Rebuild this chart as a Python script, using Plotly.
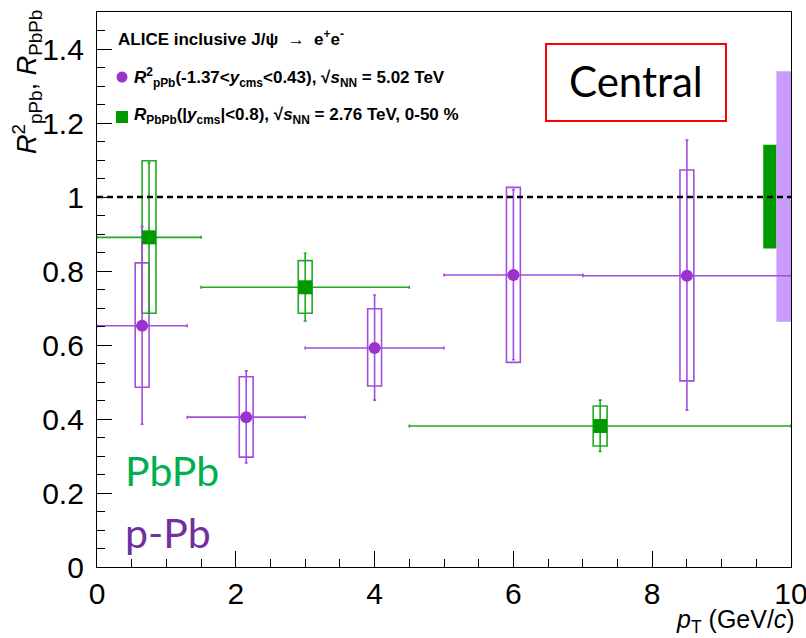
import plotly.graph_objects as go

# ---------------- data ----------------
# p-Pb  (R^2_pPb, -1.37<y_cms<0.43, sqrt(s_NN)=5.02 TeV)
ppb_x = [0.65, 2.15, 4.0, 6.0, 8.5]
ppb_xlo = [0.0, 1.3, 3.0, 5.0, 7.0]
ppb_xhi = [1.3, 3.0, 5.0, 7.0, 10.0]
ppb_y = [0.652, 0.405, 0.592, 0.789, 0.787]
ppb_stat_lo = [0.386, 0.281, 0.451, 0.560, 0.424]
ppb_stat_hi = [0.920, 0.530, 0.735, 1.020, 1.154]
ppb_sys_lo = [0.486, 0.297, 0.489, 0.553, 0.503]
ppb_sys_hi = [0.822, 0.514, 0.698, 1.026, 1.073]

# Pb-Pb (R_PbPb, |y_cms|<0.8, sqrt(s_NN)=2.76 TeV, 0-50 %)
pbpb_x = [0.75, 3.0, 7.25]
pbpb_xlo = [0.0, 1.5, 4.5]
pbpb_xhi = [1.5, 4.5, 10.0]
pbpb_y = [0.891, 0.756, 0.381]
pbpb_stat_lo = [0.689, 0.665, 0.312]
pbpb_stat_hi = [1.093, 0.848, 0.451]
pbpb_sys_lo = [0.686, 0.686, 0.327]
pbpb_sys_hi = [1.098, 0.828, 0.435]

# global (correlated) uncertainties drawn at the right edge
glob_names = ["PbPb", "pPb"]
glob_x0 = [9.60, 9.79]
glob_x1 = [9.79, 10.0]
glob_lo = [0.861, 0.663]
glob_hi = [1.141, 1.340]

unity = 1.0
sys_box_width = 0.2
x_ticks = [0, 2, 4, 6, 8, 10]
y_ticks = [0, 0.2, 0.4, 0.6, 0.8, 1, 1.2, 1.4]

# ---------------- styles ----------------
PURPLE_M = "#9933cc"
PURPLE_L = "#a24ee0"
PURPLE_F = "#c99bfa"
GREEN_M = "#009900"
GREEN_L = "#22a822"

W, H = 806, 638
L, R, T, B = 97, 15, 12, 71
PW, PH = W - L - R, H - T - B


def px(xp):
    return (xp - L) / PW


def py(yp):
    return (H - B - yp) / PH


fig = go.Figure()

# systematic boxes
fig.add_trace(go.Bar(
    x=ppb_x, base=ppb_sys_lo,
    y=[h - l for h, l in zip(ppb_sys_hi, ppb_sys_lo)],
    width=sys_box_width,
    marker=dict(color="rgba(0,0,0,0)", line=dict(color=PURPLE_L, width=1.6)),
    showlegend=False, hoverinfo="skip"))
fig.add_trace(go.Bar(
    x=pbpb_x, base=pbpb_sys_lo,
    y=[h - l for h, l in zip(pbpb_sys_hi, pbpb_sys_lo)],
    width=sys_box_width,
    marker=dict(color="rgba(0,0,0,0)", line=dict(color=GREEN_L, width=1.6)),
    showlegend=False, hoverinfo="skip"))

# global uncertainty boxes
fig.add_trace(go.Bar(
    x=[(a + b) / 2 for a, b in zip(glob_x0, glob_x1)],
    base=glob_lo,
    y=[h - l for h, l in zip(glob_hi, glob_lo)],
    width=[b - a for a, b in zip(glob_x0, glob_x1)],
    marker=dict(color=[GREEN_M, PURPLE_F], line=dict(width=0)),
    showlegend=False, hoverinfo="skip"))

# points with stat errors and bin widths
fig.add_trace(go.Scatter(
    x=ppb_x, y=ppb_y, mode="markers",
    marker=dict(symbol="circle", size=12, color=PURPLE_M, line=dict(width=0)),
    error_x=dict(type="data", symmetric=False,
                 array=[h - x for h, x in zip(ppb_xhi, ppb_x)],
                 arrayminus=[x - l for l, x in zip(ppb_xlo, ppb_x)],
                 color=PURPLE_L, thickness=1.6, width=1.5),
    error_y=dict(type="data", symmetric=False,
                 array=[h - y for h, y in zip(ppb_stat_hi, ppb_y)],
                 arrayminus=[y - l for l, y in zip(ppb_stat_lo, ppb_y)],
                 color=PURPLE_L, thickness=1.6, width=1.5),
    showlegend=False, cliponaxis=True))
fig.add_trace(go.Scatter(
    x=pbpb_x, y=pbpb_y, mode="markers",
    marker=dict(symbol="square", size=14, color=GREEN_M, line=dict(width=0)),
    error_x=dict(type="data", symmetric=False,
                 array=[h - x for h, x in zip(pbpb_xhi, pbpb_x)],
                 arrayminus=[x - l for l, x in zip(pbpb_xlo, pbpb_x)],
                 color=GREEN_L, thickness=1.6, width=1.5),
    error_y=dict(type="data", symmetric=False,
                 array=[h - y for h, y in zip(pbpb_stat_hi, pbpb_y)],
                 arrayminus=[y - l for l, y in zip(pbpb_stat_lo, pbpb_y)],
                 color=GREEN_L, thickness=1.6, width=1.5),
    showlegend=False, cliponaxis=True))

axis_font = dict(family="Liberation Sans, Arial, sans-serif", size=30, color="black")
fig.update_xaxes(range=[0, 10], tickvals=x_ticks, ticks="inside", ticklen=16,
                 tickwidth=1.3, tickcolor="black",
                 minor=dict(dtick=0.5, ticks="inside", ticklen=8, tickwidth=1.3, tickcolor="black"),
                 showline=True, linecolor="black", linewidth=1.3, mirror=True,
                 showgrid=False, zeroline=False, tickfont=axis_font, automargin=False,
                 ticklabelstandoff=0, ticklabeloverflow="allow", fixedrange=True)
fig.update_yaxes(range=[0, 1.5], tickvals=y_ticks, ticks="inside", ticklen=15,
                 tickwidth=1.3, tickcolor="black",
                 minor=dict(dtick=0.05, ticks="inside", ticklen=8, tickwidth=1.3, tickcolor="black"),
                 showline=True, linecolor="black", linewidth=1.3, mirror=True,
                 showgrid=False, zeroline=False, tickfont=axis_font, automargin=False,
                 ticklabelstandoff=6, ticklabeloverflow="allow", fixedrange=True)

leg_font = dict(family="Liberation Sans, Arial, sans-serif", size=17, color="black")
ann = []
ann.append(dict(x=px(116), y=py(38), xref="paper", yref="paper", xanchor="left", yanchor="middle",
                text="<b>ALICE inclusive J/ψ  →  e<sup>+</sup>e<sup>-</sup></b>", showarrow=False, font=leg_font))
ann.append(dict(x=px(132), y=py(77), xref="paper", yref="paper", xanchor="left", yanchor="middle",
                text="<b><i>R</i><sup>2</sup><sub>pPb</sub>(-1.37&lt;<i>y</i><sub>cms</sub>&lt;0.43), √<i>s</i><sub>NN</sub> = 5.02 TeV</b>",
                showarrow=False, font=leg_font))
ann.append(dict(x=px(132), y=py(116), xref="paper", yref="paper", xanchor="left", yanchor="middle",
                text="<b><i>R</i><sub>PbPb</sub>(|<i>y</i><sub>cms</sub>|&lt;0.8), √<i>s</i><sub>NN</sub> = 2.76 TeV, 0-50 %</b>",
                showarrow=False, font=leg_font))
# axis titles
ann.append(dict(x=px(27), y=py(8), xref="paper", yref="paper", xanchor="center", yanchor="top",
                textangle=-90, text="<i>R</i><sup>2</sup><sub>pPb</sub>, <i>R</i><sub>PbPb</sub>",
                showarrow=False, font=dict(family="Liberation Sans, Arial, sans-serif", size=27, color="black")))
ann.append(dict(x=px(797), y=py(621), xref="paper", yref="paper", xanchor="right", yanchor="middle",
                text="<i>p</i><sub>T</sub> (GeV/<i>c</i>)",
                showarrow=False, font=dict(family="Liberation Sans, Arial, sans-serif", size=25, color="black")))
# labels
ann.append(dict(x=px(123), y=py(470), xref="paper", yref="paper", xanchor="left", yanchor="middle",
                text="PbPb", showarrow=False, font=dict(family="Lato, sans-serif", size=41, color="#00b050")))
ann.append(dict(x=px(123), y=py(532), xref="paper", yref="paper", xanchor="left", yanchor="middle",
                text="p-Pb", showarrow=False, font=dict(family="Lato, sans-serif", size=41, color="#7030a0")))
ann.append(dict(x=px(636), y=py(81), xref="paper", yref="paper", xanchor="center", yanchor="middle",
                text="Central", showarrow=False, font=dict(family="Lato, sans-serif", size=42, color="black")))

shapes = [
    dict(type="line", xref="x", yref="y", x0=0, x1=10, y0=unity, y1=unity, layer="above",
         line=dict(color="black", width=2.5, dash="6px,4px")),
    dict(type="rect", xref="paper", yref="paper", x0=px(546), x1=px(726), y0=py(44), y1=py(121),
         layer="above", fillcolor="rgba(0,0,0,0)", line=dict(color="#ff0000", width=2)),
    dict(type="circle", xref="paper", yref="paper", x0=px(116.5), x1=px(127.5), y0=py(71.5), y1=py(82.5),
         line=dict(width=0), fillcolor=PURPLE_M),
    dict(type="rect", xref="paper", yref="paper", x0=px(116), x1=px(128), y0=py(111), y1=py(123),
         line=dict(width=0), fillcolor=GREEN_M),
]

fig.update_layout(width=W, height=H, margin=dict(l=L, r=R, t=T, b=B, autoexpand=False),
                  paper_bgcolor="white", plot_bgcolor="white", barmode="overlay",
                  showlegend=False, annotations=ann, shapes=shapes)

fig.write_html("out.html")
